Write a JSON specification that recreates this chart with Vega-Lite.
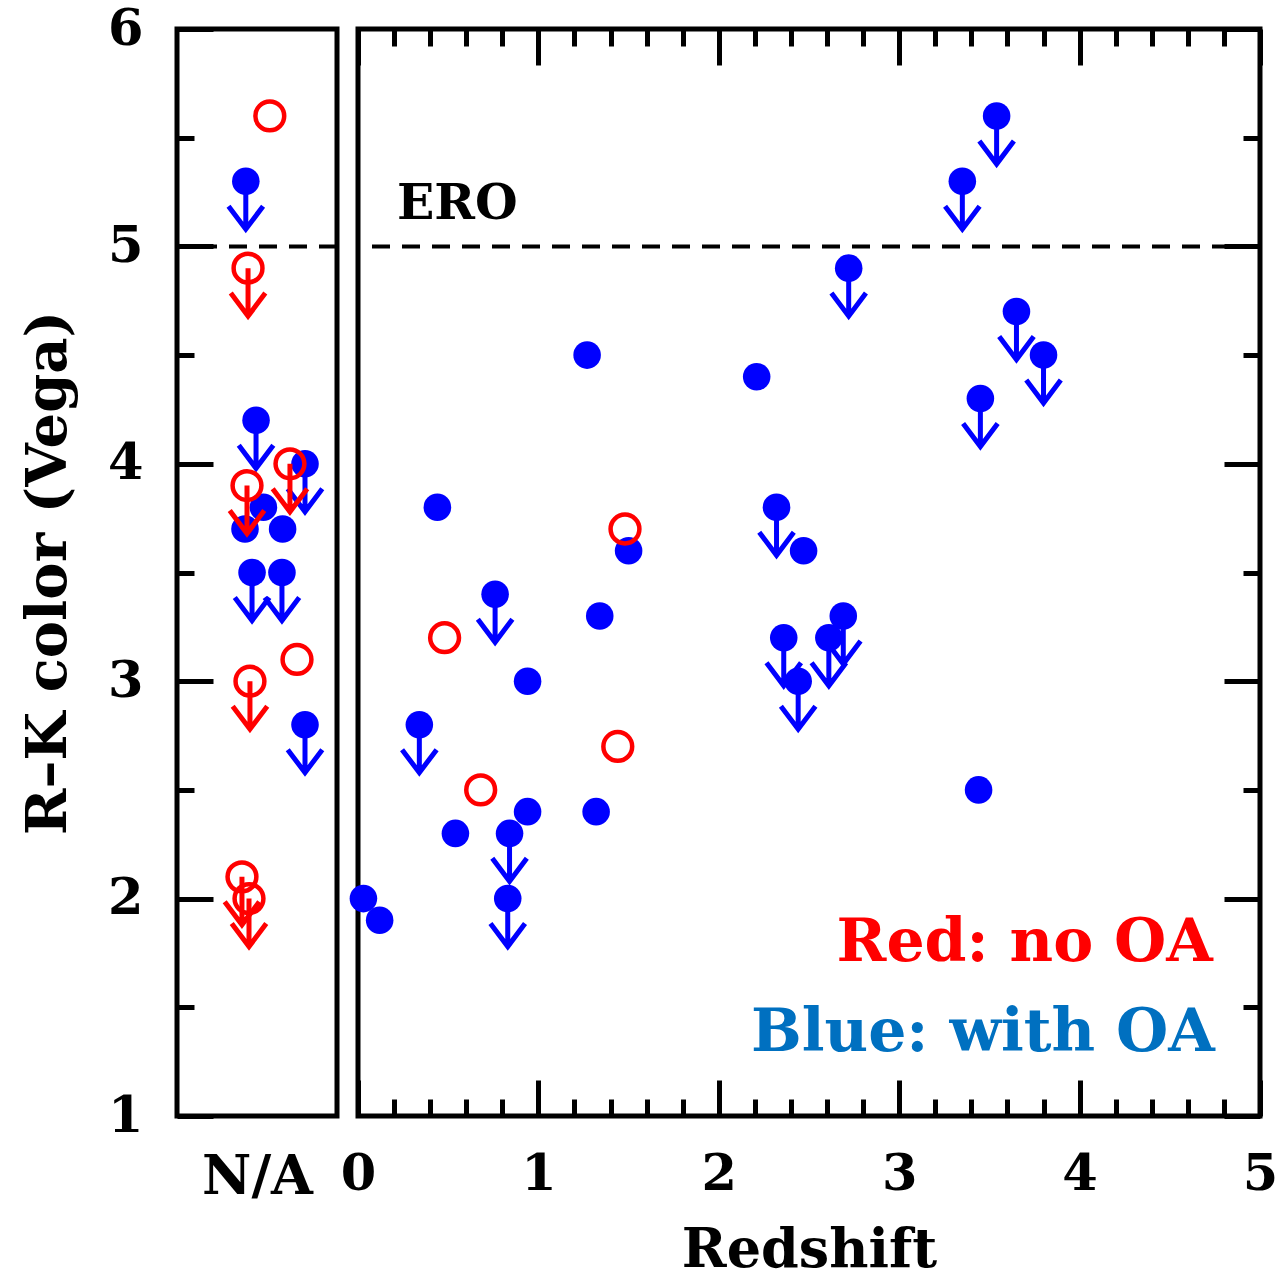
{
  "$schema": "https://vega.github.io/schema/vega-lite/v6.json",
  "background": "white",
  "padding": {"left": 18, "top": 0, "right": 0, "bottom": 0},
  "spacing": 21,
  "bounds": "flush",
  "config": {
    "view": {"stroke": "black", "strokeWidth": 5},
    "axis": {
      "grid": false, "domain": false, "tickColor": "black", "tickWidth": 5,
      "labelFont": "DejaVu Serif", "labelFontWeight": "bold", "labelFontSize": 51, "labelColor": "black",
      "titleFont": "DejaVu Serif", "titleFontWeight": "bold", "titleFontSize": 54, "titleColor": "black",
      "labelOverlap": false, "labelFlush": false
    }
  },
  "datasets": {
    "pts": [
      {"panel": "NA", "x": 0.58, "v": 5.6, "group": "red", "limit": false},
      {"panel": "NA", "x": 0.43, "v": 5.3, "group": "blue", "limit": true},
      {"panel": "NA", "x": 0.444, "v": 4.9, "group": "red", "limit": true},
      {"panel": "NA", "x": 0.494, "v": 4.2, "group": "blue", "limit": true},
      {"panel": "NA", "x": 0.8, "v": 4.0, "group": "blue", "limit": true},
      {"panel": "NA", "x": 0.54, "v": 3.8, "group": "blue", "limit": false},
      {"panel": "NA", "x": 0.425, "v": 3.7, "group": "blue", "limit": false},
      {"panel": "NA", "x": 0.66, "v": 3.7, "group": "blue", "limit": false},
      {"panel": "NA", "x": 0.469, "v": 3.5, "group": "blue", "limit": true},
      {"panel": "NA", "x": 0.656, "v": 3.5, "group": "blue", "limit": true},
      {"panel": "NA", "x": 0.8, "v": 2.8, "group": "blue", "limit": true},
      {"panel": "NA", "x": 0.706, "v": 4.0, "group": "red", "limit": true},
      {"panel": "NA", "x": 0.4375, "v": 3.9, "group": "red", "limit": true},
      {"panel": "NA", "x": 0.75, "v": 3.1, "group": "red", "limit": false},
      {"panel": "NA", "x": 0.456, "v": 3.0, "group": "red", "limit": true},
      {"panel": "NA", "x": 0.406, "v": 2.1, "group": "red", "limit": true},
      {"panel": "NA", "x": 0.45, "v": 2.0, "group": "red", "limit": true},
      {"panel": "z", "x": 0.03, "v": 2.0, "group": "blue", "limit": false},
      {"panel": "z", "x": 0.12, "v": 1.9, "group": "blue", "limit": false},
      {"panel": "z", "x": 0.44, "v": 3.8, "group": "blue", "limit": false},
      {"panel": "z", "x": 0.54, "v": 2.3, "group": "blue", "limit": false},
      {"panel": "z", "x": 0.94, "v": 3.0, "group": "blue", "limit": false},
      {"panel": "z", "x": 0.94, "v": 2.4, "group": "blue", "limit": false},
      {"panel": "z", "x": 1.27, "v": 4.5, "group": "blue", "limit": false},
      {"panel": "z", "x": 1.32, "v": 2.4, "group": "blue", "limit": false},
      {"panel": "z", "x": 1.34, "v": 3.3, "group": "blue", "limit": false},
      {"panel": "z", "x": 1.5, "v": 3.6, "group": "blue", "limit": false},
      {"panel": "z", "x": 2.21, "v": 4.4, "group": "blue", "limit": false},
      {"panel": "z", "x": 2.47, "v": 3.6, "group": "blue", "limit": false},
      {"panel": "z", "x": 3.44, "v": 2.5, "group": "blue", "limit": false},
      {"panel": "z", "x": 0.34, "v": 2.8, "group": "blue", "limit": true},
      {"panel": "z", "x": 0.76, "v": 3.4, "group": "blue", "limit": true},
      {"panel": "z", "x": 0.84, "v": 2.3, "group": "blue", "limit": true},
      {"panel": "z", "x": 0.83, "v": 2.0, "group": "blue", "limit": true},
      {"panel": "z", "x": 2.32, "v": 3.8, "group": "blue", "limit": true},
      {"panel": "z", "x": 2.36, "v": 3.2, "group": "blue", "limit": true},
      {"panel": "z", "x": 2.44, "v": 3.0, "group": "blue", "limit": true},
      {"panel": "z", "x": 2.61, "v": 3.2, "group": "blue", "limit": true},
      {"panel": "z", "x": 2.69, "v": 3.3, "group": "blue", "limit": true},
      {"panel": "z", "x": 2.72, "v": 4.9, "group": "blue", "limit": true},
      {"panel": "z", "x": 3.35, "v": 5.3, "group": "blue", "limit": true},
      {"panel": "z", "x": 3.54, "v": 5.6, "group": "blue", "limit": true},
      {"panel": "z", "x": 3.65, "v": 4.7, "group": "blue", "limit": true},
      {"panel": "z", "x": 3.8, "v": 4.5, "group": "blue", "limit": true},
      {"panel": "z", "x": 3.45, "v": 4.3, "group": "blue", "limit": true},
      {"panel": "z", "x": 0.48, "v": 3.2, "group": "red", "limit": false},
      {"panel": "z", "x": 0.68, "v": 2.5, "group": "red", "limit": false},
      {"panel": "z", "x": 1.44, "v": 2.7, "group": "red", "limit": false},
      {"panel": "z", "x": 1.48, "v": 3.7, "group": "red", "limit": false}
    ]
  },
  "hconcat": [
    {
      "width": 160,
      "height": 1087,
      "data": {"name": "pts"},
      "resolve": {"axis": {"x": "independent", "y": "independent"}},
      "layer": [
        {
          "data": {"values": [{}]},
          "mark": {"type": "rule", "color": "black", "strokeWidth": 4, "strokeDash": [18, 12]},
          "encoding": {"y": {"datum": 5, "type": "quantitative", "scale": {"domain": [1, 6], "nice": false, "zero": false}, "axis": null}}
        },
        {
          "transform": [{"filter": "datum.panel === 'NA' && datum.group === 'blue' && datum.limit"}],
          "mark": {"type": "point", "shape": "M0,0L0,1M-0.36,0.52L0,1L0.36,0.52", "size": 9216, "filled": false, "color": "#0000ff", "strokeWidth": 5, "strokeJoin": "miter", "strokeCap": "butt", "opacity": 1},
          "encoding": {
            "x": {"field": "x", "type": "quantitative", "scale": {"domain": [0, 1], "nice": false, "zero": false}, "axis": null},
            "y": {"field": "v", "type": "quantitative", "scale": {"domain": [1, 6], "nice": false, "zero": false}, "axis": null}
          }
        },
        {
          "transform": [{"filter": "datum.panel === 'NA' && datum.group === 'blue'"}],
          "mark": {"type": "point", "shape": "circle", "size": 760, "filled": true, "color": "#0000ff", "strokeWidth": 0, "opacity": 1},
          "encoding": {
            "x": {"field": "x", "type": "quantitative", "scale": {"domain": [0, 1], "nice": false, "zero": false},
              "axis": {"orient": "bottom", "title": "N/A", "ticks": false, "labels": false, "titlePadding": 34, "titleFontSize": 54}},
            "y": {"field": "v", "type": "quantitative", "scale": {"domain": [1, 6], "nice": false, "zero": false},
              "axis": {"orient": "left", "title": "R–K color (Vega)", "titleFontSize": 56,
                "values": [1, 1.5, 2, 2.5, 3, 3.5, 4, 4.5, 5, 5.5, 6],
                "tickSize": {"condition": {"test": "datum.value % 1 === 0", "value": -36}, "value": -17},
                "labelExpr": "datum.value % 1 === 0 ? format(datum.value, 'd') : ''",
                "labelPadding": 70, "titlePadding": 30}}
          }
        },
        {
          "transform": [{"filter": "datum.panel === 'NA' && datum.group === 'red' && datum.limit"}],
          "mark": {"type": "point", "shape": "M0,0L0,1M-0.36,0.52L0,1L0.36,0.52", "size": 9216, "filled": false, "color": "#ff0000", "strokeWidth": 5, "strokeJoin": "miter", "strokeCap": "butt", "opacity": 1},
          "encoding": {
            "x": {"field": "x", "type": "quantitative", "scale": {"domain": [0, 1], "nice": false, "zero": false}, "axis": null},
            "y": {"field": "v", "type": "quantitative", "scale": {"domain": [1, 6], "nice": false, "zero": false}, "axis": null}
          }
        },
        {
          "transform": [{"filter": "datum.panel === 'NA' && datum.group === 'red'"}],
          "mark": {"type": "point", "shape": "circle", "size": 830, "filled": false, "color": "#ff0000", "strokeWidth": 4.5, "opacity": 1},
          "encoding": {
            "x": {"field": "x", "type": "quantitative", "scale": {"domain": [0, 1], "nice": false, "zero": false}, "axis": null},
            "y": {"field": "v", "type": "quantitative", "scale": {"domain": [1, 6], "nice": false, "zero": false}, "axis": null}
          }
        }
      ]
    },
    {
      "width": 902,
      "height": 1087,
      "data": {"name": "pts"},
      "resolve": {"axis": {"x": "independent", "y": "independent"}},
      "layer": [
        {
          "data": {"values": [{}]},
          "mark": {"type": "rule", "color": "black", "strokeWidth": 4, "strokeDash": [18, 12]},
          "encoding": {"y": {"datum": 5, "type": "quantitative", "scale": {"domain": [1, 6], "nice": false, "zero": false}, "axis": null}}
        },
        {
          "transform": [{"filter": "datum.panel === 'z' && datum.group === 'blue' && datum.limit"}],
          "mark": {"type": "point", "shape": "M0,0L0,1M-0.36,0.52L0,1L0.36,0.52", "size": 9216, "filled": false, "color": "#0000ff", "strokeWidth": 5, "strokeJoin": "miter", "strokeCap": "butt", "opacity": 1},
          "encoding": {
            "x": {"field": "x", "type": "quantitative", "scale": {"domain": [0, 5], "nice": false, "zero": false},
              "axis": {"orient": "top", "title": null, "labels": false,
                "values": [0, 0.2, 0.4, 0.6, 0.8, 1, 1.2, 1.4, 1.6, 1.8, 2, 2.2, 2.4, 2.6, 2.8, 3, 3.2, 3.4, 3.6, 3.8, 4, 4.2, 4.4, 4.6, 4.8, 5],
                "tickSize": {"condition": {"test": "datum.value % 1 === 0", "value": -36}, "value": -17}}},
            "y": {"field": "v", "type": "quantitative", "scale": {"domain": [1, 6], "nice": false, "zero": false},
              "axis": {"orient": "right", "title": null, "labels": false,
                "values": [1, 1.5, 2, 2.5, 3, 3.5, 4, 4.5, 5, 5.5, 6],
                "tickSize": {"condition": {"test": "datum.value % 1 === 0", "value": -36}, "value": -17}}}
          }
        },
        {
          "transform": [{"filter": "datum.panel === 'z' && datum.group === 'blue'"}],
          "mark": {"type": "point", "shape": "circle", "size": 760, "filled": true, "color": "#0000ff", "strokeWidth": 0, "opacity": 1},
          "encoding": {
            "x": {"field": "x", "type": "quantitative", "scale": {"domain": [0, 5], "nice": false, "zero": false},
              "axis": {"orient": "bottom", "title": "Redshift",
                "values": [0, 0.2, 0.4, 0.6, 0.8, 1, 1.2, 1.4, 1.6, 1.8, 2, 2.2, 2.4, 2.6, 2.8, 3, 3.2, 3.4, 3.6, 3.8, 4, 4.2, 4.4, 4.6, 4.8, 5],
                "tickSize": {"condition": {"test": "datum.value % 1 === 0", "value": -36}, "value": -17},
                "labelExpr": "datum.value % 1 === 0 ? format(datum.value, 'd') : ''",
                "labelPadding": 69, "titlePadding": 5}},
            "y": {"field": "v", "type": "quantitative", "scale": {"domain": [1, 6], "nice": false, "zero": false}, "axis": null}
          }
        },
        {
          "transform": [{"filter": "datum.panel === 'z' && datum.group === 'red' && datum.limit"}],
          "mark": {"type": "point", "shape": "M0,0L0,1M-0.36,0.52L0,1L0.36,0.52", "size": 9216, "filled": false, "color": "#ff0000", "strokeWidth": 5, "strokeJoin": "miter", "strokeCap": "butt", "opacity": 1},
          "encoding": {
            "x": {"field": "x", "type": "quantitative", "scale": {"domain": [0, 5], "nice": false, "zero": false}, "axis": null},
            "y": {"field": "v", "type": "quantitative", "scale": {"domain": [1, 6], "nice": false, "zero": false}, "axis": null}
          }
        },
        {
          "transform": [{"filter": "datum.panel === 'z' && datum.group === 'red'"}],
          "mark": {"type": "point", "shape": "circle", "size": 830, "filled": false, "color": "#ff0000", "strokeWidth": 4.5, "opacity": 1},
          "encoding": {
            "x": {"field": "x", "type": "quantitative", "scale": {"domain": [0, 5], "nice": false, "zero": false}, "axis": null},
            "y": {"field": "v", "type": "quantitative", "scale": {"domain": [1, 6], "nice": false, "zero": false}, "axis": null}
          }
        },
        {
          "data": {"values": [{}]},
          "mark": {"type": "text", "text": "ERO", "font": "DejaVu Serif", "fontWeight": "bold", "fontSize": 49, "color": "black", "align": "left", "baseline": "alphabetic"},
          "encoding": {
            "x": {"datum": 0.216, "type": "quantitative", "scale": {"domain": [0, 5], "nice": false, "zero": false}, "axis": null},
            "y": {"datum": 5.126, "type": "quantitative", "scale": {"domain": [1, 6], "nice": false, "zero": false}, "axis": null}
          }
        },
        {
          "data": {"values": [{}]},
          "mark": {"type": "text", "text": "Red: no OA", "font": "DejaVu Serif", "fontWeight": "bold", "fontSize": 60, "color": "#ff0000", "align": "right", "baseline": "alphabetic"},
          "encoding": {
            "x": {"datum": 4.739, "type": "quantitative", "scale": {"domain": [0, 5], "nice": false, "zero": false}, "axis": null},
            "y": {"datum": 1.713, "type": "quantitative", "scale": {"domain": [1, 6], "nice": false, "zero": false}, "axis": null}
          }
        },
        {
          "data": {"values": [{}]},
          "mark": {"type": "text", "text": "Blue: with OA", "font": "DejaVu Serif", "fontWeight": "bold", "fontSize": 60, "color": "#0070c0", "align": "right", "baseline": "alphabetic"},
          "encoding": {
            "x": {"datum": 4.75, "type": "quantitative", "scale": {"domain": [0, 5], "nice": false, "zero": false}, "axis": null},
            "y": {"datum": 1.299, "type": "quantitative", "scale": {"domain": [1, 6], "nice": false, "zero": false}, "axis": null}
          }
        }
      ]
    }
  ]
}
